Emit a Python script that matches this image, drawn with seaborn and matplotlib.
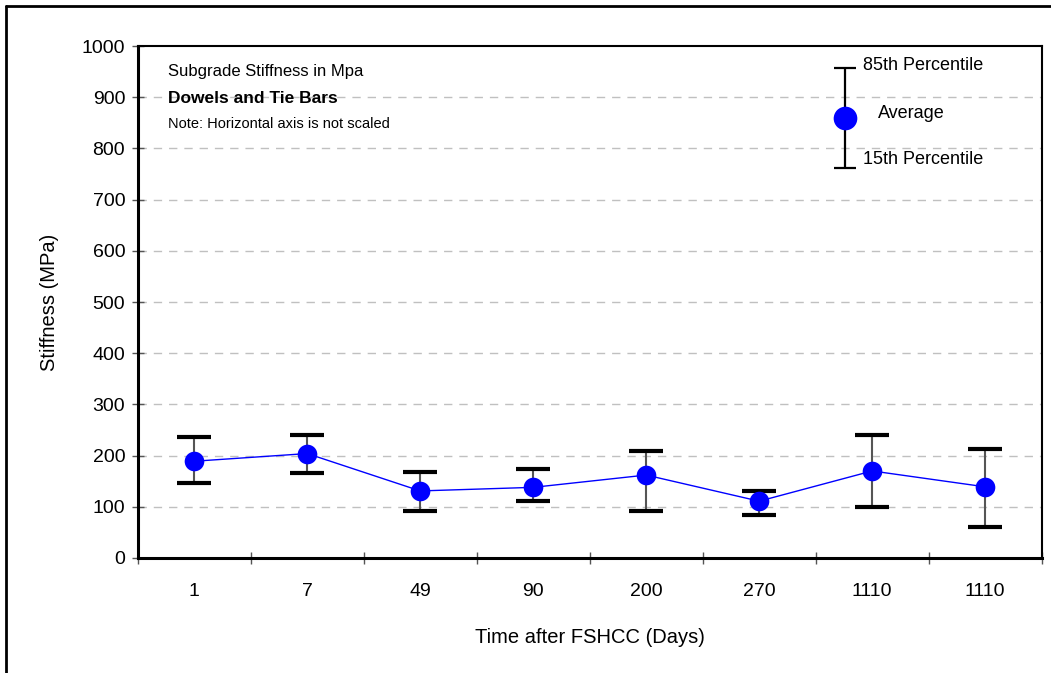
import matplotlib
matplotlib.use("Agg")
import matplotlib.pyplot as plt
import seaborn as sns
import numpy as np
import pandas as pd
from matplotlib.lines import Line2D

categories = ["1", "7", "49", "90", "200", "270", "1110", "1110"]
average = [189, 204, 131, 138, 162, 111, 170, 139]
p85 = [237, 241, 167, 174, 209, 131, 241, 213]
p15 = [146, 166, 92, 112, 92, 84, 100, 61]
yticks = list(range(0, 1001, 100))

sns.set_theme(style="white")
plt.rcParams['font.family'] = ['Liberation Sans', 'DejaVu Sans']
plt.rcParams['text.color'] = 'black'
plt.rcParams['axes.labelcolor'] = 'black'
plt.rcParams['xtick.color'] = 'black'
plt.rcParams['ytick.color'] = 'black'

fig = plt.figure(figsize=(10.51, 6.73), dpi=100)
ax = fig.add_axes([137.7 / 1051, 1 - 558 / 673, (1041.7 - 137.7) / 1051, (558 - 46) / 673])

pos = np.arange(len(categories))
df = pd.DataFrame({"pos": pos, "avg": average, "p85": p85, "p15": p15})

# gridlines
for v in yticks[1:-1]:
    ax.axhline(v, color="#c0c0c0", lw=1, ls=(0, (6, 5)), zorder=0)

# error bars (gray stems, thick black caps)
ax.vlines(df["pos"], df["p15"], df["p85"], color="#555555", lw=1.5, zorder=2)
ax.hlines(df["p85"], df["pos"] - 0.15, df["pos"] + 0.15, color="black", lw=3, zorder=2)
ax.hlines(df["p15"], df["pos"] - 0.15, df["pos"] + 0.15, color="black", lw=3, zorder=2)

sns.lineplot(data=df, x="pos", y="avg", ax=ax, color="#0000ff", lw=1, zorder=3)
sns.scatterplot(data=df, x="pos", y="avg", ax=ax, color="#0000ff", s=200,
                edgecolor="#0000ff", linewidth=0, zorder=4)

ax.set_xlim(-0.5, len(categories) - 0.5)
ax.set_ylim(0, 1000)
ax.set_yticks(yticks)
ax.set_yticklabels([str(v) for v in yticks], fontsize=14)
ax.set_xticks(pos)
ax.set_xticklabels(categories, fontsize=14)
ax.set_xticks(np.arange(-0.5, len(categories), 1), minor=True)
ax.tick_params(axis="x", which="major", bottom=False, length=0, pad=18)
ax.tick_params(axis="x", which="minor", bottom=True, direction="inout", length=9, width=1, color="#555555")
ax.tick_params(axis="y", which="major", left=True, direction="inout", length=8, width=1, color="#555555", pad=5)
ax.set_xlabel("Time after FSHCC (Days)", fontsize=14.5, labelpad=20)
ax.set_ylabel("Stiffness (MPa)", fontsize=14.5, labelpad=16)

for s in ["left", "bottom"]:
    ax.spines[s].set_linewidth(2.2)
    ax.spines[s].set_color("black")
for s in ["top", "right"]:
    ax.spines[s].set_linewidth(1.5)
    ax.spines[s].set_color("black")

# text annotations
ax.text(0.033, 0.951, "Subgrade Stiffness in Mpa", transform=ax.transAxes, fontsize=12, va="center")
ax.text(0.033, 0.898, "Dowels and Tie Bars", transform=ax.transAxes, fontsize=12.5,
        fontweight="bold", va="center")
ax.text(0.033, 0.847, "Note: Horizontal axis is not scaled", transform=ax.transAxes, fontsize=10.5, va="center")

# legend key
lx = 5.76
ax.vlines(lx, 762, 957, color="black", lw=1.6, zorder=2)
ax.hlines([957, 762], lx - 0.1, lx + 0.1, color="black", lw=1.6, zorder=2)
ax.scatter([lx], [859], s=290, color="#0000ff", linewidth=0, zorder=4)
ax.text(lx + 0.16, 962, "85th Percentile", fontsize=13, va="center")
ax.text(lx + 0.29, 868, "Average", fontsize=13, va="center")
ax.text(lx + 0.16, 778, "15th Percentile", fontsize=13, va="center")

# outer border (top and left visible)
fig.add_artist(Line2D([5.5 / 1051, 5.5 / 1051], [0, 1 - 6 / 673], transform=fig.transFigure,
                      color="black", lw=2))
fig.add_artist(Line2D([5.5 / 1051, 1], [1 - 6 / 673, 1 - 6 / 673], transform=fig.transFigure,
                      color="black", lw=2))

fig.savefig("out.png", dpi=100)
